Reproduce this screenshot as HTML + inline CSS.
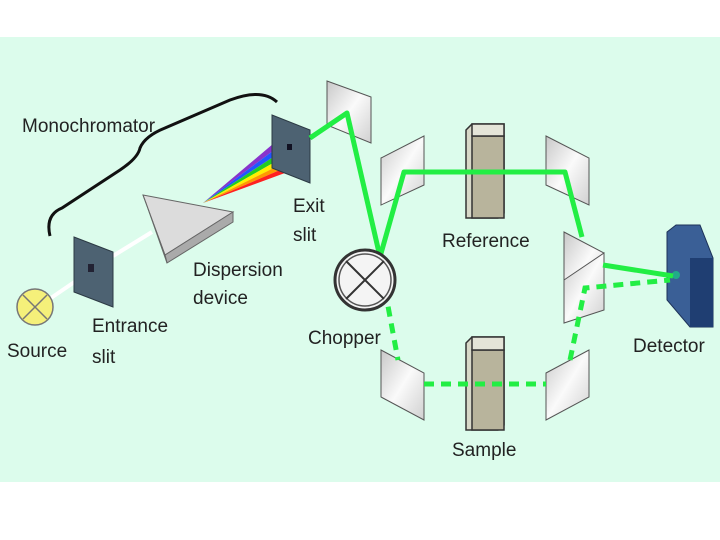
<!DOCTYPE html>
<html><head><meta charset="utf-8"><style>
html,body{margin:0;padding:0;background:#fff;}
svg{display:block}
text{font-family:"Liberation Sans",sans-serif;font-size:19px;fill:#222;}
</style></head><body>
<svg width="720" height="540" viewBox="0 0 720 540">
<defs>
<linearGradient id="mir" x1="0" y1="0" x2="1" y2="1"><stop offset="0" stop-color="#c8c8c8"/><stop offset="0.5" stop-color="#fafafa"/><stop offset="1" stop-color="#d0d0d0"/></linearGradient>
</defs>
<rect x="0" y="37" width="720" height="445" fill="#dcfcec"/>
<!-- brace -->
<path d="M50,236 Q45,215 62,208 L120,170 Q138,158 140,148 Q145,136 165,128 L230,100 Q262,88 277,102" fill="none" stroke="#111" stroke-width="3"/>
<text x="22" y="132">Monochromator</text>
<!-- white beam -->
<line x1="48" y1="300" x2="92" y2="270" stroke="#fff" stroke-width="4"/>
<line x1="113" y1="256" x2="152" y2="232" stroke="#fff" stroke-width="4"/>
<!-- source -->
<circle cx="35" cy="307" r="18" fill="#f5f07a" stroke="#777" stroke-width="1.5"/>
<path d="M23,295 L47,319 M47,295 L23,319" stroke="#777" stroke-width="1.5"/>
<text x="7" y="357">Source</text>
<!-- entrance slit -->
<polygon points="74,237 113,252 113,307 74,292" fill="#4d6272" stroke="#2c3a44"/>
<rect x="88" y="264" width="6" height="8" fill="#223"/>
<text x="92" y="332">Entrance</text>
<text x="92" y="363">slit</text>
<!-- prism -->
<polygon points="143,195 233,212 165,255" fill="#dcdcdc" stroke="#666"/>
<polygon points="165,255 233,212 233,222 167,263" fill="#aaa" stroke="#666"/>
<polygon points="143,195 165,255 167,263 146,203" fill="#bbb" stroke="#666"/>
<!-- rainbow -->
<g>
<polygon points="203,203 280,138 285,142" fill="#8833cc"/>
<polygon points="203,203 285,142 290,146" fill="#2255ff"/>
<polygon points="203,203 290,146 294,151" fill="#22cc22"/>
<polygon points="203,203 294,151 298,156" fill="#ffee00"/>
<polygon points="203,203 298,156 301,161" fill="#ff9900"/>
<polygon points="203,203 301,161 304,166" fill="#ff2020"/>
</g>
<!-- exit slit -->
<polygon points="272,115 310,130 310,183 272,168" fill="#4d6272" stroke="#2c3a44"/>
<rect x="287" y="144" width="5" height="6" fill="#112"/>
<text x="293" y="212">Exit</text>
<text x="293" y="241">slit</text>
<text x="193" y="276">Dispersion</text>
<text x="193" y="304">device</text>
<!-- mirrors -->
<polygon points="327,81 371,97 371,143 327,125" fill="url(#mir)" stroke="#555"/>
<polygon points="381,158 424,136 424,185 381,205" fill="url(#mir)" stroke="#555"/>
<polygon points="546,136 589,158 589,205 546,185" fill="url(#mir)" stroke="#555"/>
<polygon points="381,350 424,373 424,420 381,397" fill="url(#mir)" stroke="#555"/>
<polygon points="546,373 589,350 589,397 546,420" fill="url(#mir)" stroke="#555"/>
<polygon points="564,232 604,253 604,300 564,280" fill="url(#mir)" stroke="#555"/>
<polygon points="564,280 604,253 604,310 564,323" fill="url(#mir)" stroke="#555"/>
<!-- cuvettes -->
<g stroke="#333" stroke-width="1.5">
<polygon points="466,130 472,124 504,124 504,213 498,218 466,218" fill="#d8d8c8"/>
<rect x="472" y="136" width="32" height="82" fill="#b8b49c"/>
<rect x="472" y="124" width="32" height="12" fill="#e4e4d8"/>
<polygon points="466,343 472,337 504,337 504,425 498,430 466,430" fill="#d8d8c8"/>
<rect x="472" y="350" width="32" height="80" fill="#b8b49c"/>
<rect x="472" y="337" width="32" height="13" fill="#e4e4d8"/>
</g>
<!-- detector -->
<polygon points="667,232 676,225 700,225 713,258 713,327 690,327 667,300" fill="#3a5f96" stroke="#1d3258"/>
<polygon points="690,258 713,258 713,327 690,327" fill="#1f3e72"/>
<circle cx="676" cy="275" r="4" fill="#2a8"/>
<!-- green beams -->
<g fill="none" stroke="#22ee44" stroke-width="5" stroke-linejoin="round">
<polyline points="310,138 347,113 380,257"/>
<polyline points="380,257 404,172 565,172 582,237"/>
<polyline points="603,265 673,276"/>
</g>
<g fill="none" stroke="#22ee44" stroke-width="5" stroke-dasharray="10,7">
<polyline points="385,290 398,360"/>
<polyline points="424,384 546,384"/>
<polyline points="570,360 585,288 670,280"/>
</g>
<!-- chopper -->
<circle cx="365" cy="280" r="30" fill="#f4f4f4" stroke="#333" stroke-width="3"/>
<circle cx="365" cy="280" r="26" fill="none" stroke="#555" stroke-width="1.5"/>
<path d="M346,261 L384,299 M384,261 L346,299" stroke="#333" stroke-width="2"/>
<text x="308" y="344">Chopper</text>
<text x="442" y="247">Reference</text>
<text x="633" y="352">Detector</text>
<text x="452" y="456">Sample</text>
</svg>
</body></html>
